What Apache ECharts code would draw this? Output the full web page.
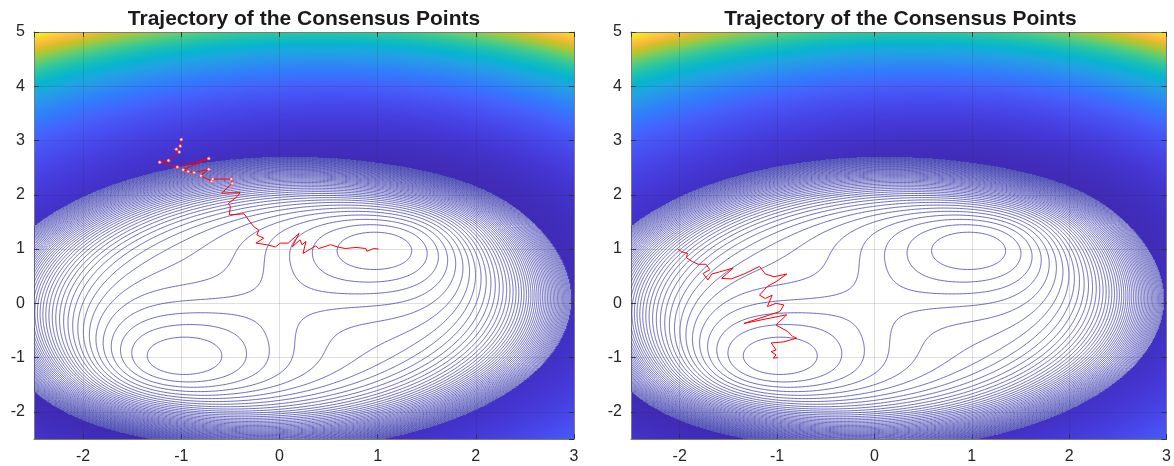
<!DOCTYPE html>
<html><head><meta charset="utf-8"><title>Trajectory of the Consensus Points</title>
<script src="https://cdn.jsdelivr.net/npm/echarts/dist/echarts.min.js"></script>
<style>html,body{margin:0;padding:0;background:#fff;}#chart{width:1174px;height:466px;}</style>
</head><body><div id="chart"></div>
<script>
// ---------- text and axes ----------
const TITLE = 'Trajectory of the Consensus Points';
const X_EXTENT = [-2.5, 3];
const Y_EXTENT = [-2.5, 5];
const TICK_STEP = 1;

// ---------- consensus-point trajectories ----------
const LEFT_PATH = [[-1.00,3.02],[-1.01,2.90],[-1.05,2.84],[-1.02,2.79],[-1.13,2.63],[-1.22,2.60],[-1.04,2.51],[-0.72,2.67],[-0.98,2.46],[-0.93,2.43],[-0.87,2.41],[-0.72,2.47],[-0.80,2.35],[-0.69,2.25],[-0.68,2.29],[-0.49,2.29],[-0.48,2.21],[-0.59,2.03],[-0.40,2.04],[-0.43,1.97],[-0.52,1.84],[-0.50,1.79],[-0.51,1.63],[-0.36,1.65],[-0.30,1.50],[-0.26,1.41],[-0.21,1.35],[-0.23,1.26],[-0.16,1.20],[-0.24,1.11],[-0.13,1.08],[-0.04,1.04],[0.01,1.11],[0.09,1.11],[0.20,1.29],[0.13,1.04],[0.21,1.17],[0.23,1.08],[0.27,1.14],[0.24,0.92],[0.37,1.06],[0.40,1.01],[0.52,1.08],[0.59,1.04],[0.67,1.01],[0.78,1.03],[0.88,1.01],[0.89,0.96],[0.96,1.01],[1.01,1.00]];
const RIGHT_PATH = [[-2.02,1.00],[-1.98,0.95],[-1.92,0.92],[-1.93,0.84],[-1.87,0.77],[-1.81,0.72],[-1.73,0.72],[-1.69,0.62],[-1.76,0.55],[-1.71,0.43],[-1.67,0.54],[-1.59,0.58],[-1.45,0.65],[-1.57,0.46],[-1.47,0.45],[-1.34,0.54],[-1.18,0.68],[-1.12,0.54],[-1.03,0.49],[-0.90,0.54],[-1.01,0.40],[-1.10,0.31],[-1.18,0.15],[-1.12,0.09],[-1.05,0.15],[-1.10,-0.06],[-1.01,0.00],[-0.93,-0.03],[-0.97,-0.15],[-1.34,-0.37],[-0.90,-0.21],[-1.01,-0.40],[-0.89,-0.52],[-0.84,-0.61],[-0.80,-0.64],[-0.93,-0.71],[-1.06,-0.73],[-1.01,-0.86],[-1.06,-0.89],[-1.01,-0.95],[-1.04,-1.01],[-0.99,-1.00]];
const LEFT_MARKED_POINTS = 17;

// ---------- objective landscape: minima at (1,1) and (-1,-1), saddle at (0,0) ----------
const RING_WEIGHT_X = 0.9;       // minima lie on 0.9 x^2 + 1.1 y^2 = 2
const RING_WEIGHT_Y = 1.1;
const DIAGONAL_COUPLING = 4;     // pulls the minima onto y = x
const COUPLING_SATURATION = 0.3; // used for the contour field
const CONTOUR_FIRST = 1.0;       // contour levels are evenly spaced in  v + c*v^2
const CONTOUR_STEP = 1.22;
const CONTOUR_COMPRESSION = 0.009;
const CONTOUR_LAST = 45;         // highest drawn level = edge of the white region
const COLOR_GAMMA = 1.25;

function landscape(x, y, saturation) {
  const r = RING_WEIGHT_X * x * x + RING_WEIGHT_Y * y * y - (RING_WEIGHT_X + RING_WEIGHT_Y);
  const d = (x - y) * (x - y);
  return r * r + DIAGONAL_COUPLING * d / (1 + saturation * d);
}

// parula colormap
const PARULA = [[0.2422,0.1504,0.6603],[0.2706,0.2147,0.8364],[0.2813,0.3006,0.9414],[0.2699,0.3892,0.9906],[0.1963,0.4847,0.9892],[0.1687,0.5703,0.9359],[0.1248,0.6459,0.8883],[0.0297,0.7082,0.8163],[0.0964,0.7500,0.7120],[0.2161,0.7843,0.5923],[0.3909,0.8029,0.4354],[0.6174,0.7876,0.2612],[0.8203,0.7498,0.1535],[0.9728,0.7298,0.2394],[0.9892,0.8136,0.1885],[0.9597,0.9135,0.1423],[0.9769,0.9839,0.0805]];
const PARULA_POS = [0,4,8,12,16,20,24,28,32,36,40,44,48,52,56,60,63].map(v => v / 63);
function parula(t) {
  t = Math.max(0, Math.min(1, t));
  let k = 0;
  while (k < PARULA_POS.length - 2 && t > PARULA_POS[k + 1]) k++;
  const u = (t - PARULA_POS[k]) / (PARULA_POS[k + 1] - PARULA_POS[k]);
  const a = PARULA[k], b = PARULA[k + 1];
  return [0, 1, 2].map(c => Math.round(255 * (a[c] + (b[c] - a[c]) * u)));
}

// contour levels
const LEVELS = [];
for (let q = CONTOUR_FIRST; ; q += CONTOUR_STEP) {
  const v = (-1 + Math.sqrt(1 + 4 * CONTOUR_COMPRESSION * q)) / (2 * CONTOUR_COMPRESSION);
  if (v > CONTOUR_LAST) break;
  LEVELS.push(v);
}

// ---------- surface raster (cells of the landscape) ----------
const CELL_NX = 550, CELL_NY = 750;
const BG_CANVAS = document.createElement('canvas');
(function buildSurface() {
  BG_CANVAS.width = CELL_NX; BG_CANVAS.height = CELL_NY;
  const ctx = BG_CANVAS.getContext('2d');
  const img = ctx.createImageData(CELL_NX, CELL_NY);
  const dx = (X_EXTENT[1] - X_EXTENT[0]) / CELL_NX, dy = (Y_EXTENT[1] - Y_EXTENT[0]) / CELL_NY;
  const inside = new Uint8Array(CELL_NX * CELL_NY);
  const surf = new Float64Array(CELL_NX * CELL_NY);
  let vmax = 0;
  for (let j = 0; j < CELL_NY; j++) for (let i = 0; i < CELL_NX; i++) {
    const x = X_EXTENT[0] + (i + 0.5) * dx, y = Y_EXTENT[1] - (j + 0.5) * dy;
    const p = j * CELL_NX + i;
    inside[p] = landscape(x, y, COUPLING_SATURATION) < CONTOUR_LAST ? 1 : 0;
    surf[p] = landscape(x, y, 0);
    if (surf[p] > vmax) vmax = surf[p];
  }
  for (let p = 0; p < surf.length; p++) {
    const c = inside[p] ? [255, 255, 255] : parula(Math.pow(surf[p] / vmax, COLOR_GAMMA));
    img.data[4 * p] = c[0]; img.data[4 * p + 1] = c[1]; img.data[4 * p + 2] = c[2]; img.data[4 * p + 3] = 255;
  }
  ctx.putImageData(img, 0, 0);
})();

// ---------- contour lines by marching squares (data coordinates) ----------
const CONTOURS = (function () {
  const h = 0.014, x0 = X_EXTENT[0], y0 = Y_EXTENT[0], yTop = 3.4;
  const nx = Math.round((X_EXTENT[1] - x0) / h) + 1, ny = Math.round((yTop - y0) / h) + 1;
  const V = new Float64Array(nx * ny);
  for (let j = 0; j < ny; j++) for (let i = 0; i < nx; i++) V[j * nx + i] = landscape(x0 + i * h, y0 + j * h, COUPLING_SATURATION);
  const CASES = {1:[[3,0]],2:[[0,1]],3:[[3,1]],4:[[1,2]],6:[[0,2]],7:[[3,2]],8:[[3,2]],9:[[0,2]],11:[[1,2]],12:[[3,1]],13:[[0,1]],14:[[3,0]]};
  return LEVELS.map(L => {
    const segs = [];
    for (let j = 0; j < ny - 1; j++) for (let i = 0; i < nx - 1; i++) {
      const a = V[j * nx + i], b = V[j * nx + i + 1], c = V[(j + 1) * nx + i + 1], d = V[(j + 1) * nx + i];
      const code = (a > L ? 1 : 0) | (b > L ? 2 : 0) | (c > L ? 4 : 0) | (d > L ? 8 : 0);
      if (code === 0 || code === 15) continue;
      const xl = x0 + i * h, yb = y0 + j * h;
      const ep = e => e === 0 ? [xl + h * (L - a) / (b - a), yb]
                   : e === 1 ? [xl + h, yb + h * (L - b) / (c - b)]
                   : e === 2 ? [xl + h * (L - d) / (c - d), yb + h]
                   : [xl, yb + h * (L - a) / (d - a)];
      let pairs;
      if (code === 5 || code === 10) {
        const up = (a + b + c + d) / 4 > L;
        pairs = (code === 5) === up ? [[0,1],[3,2]] : [[3,0],[1,2]];
      } else pairs = CASES[code];
      for (const pr of pairs) { const p = ep(pr[0]), q = ep(pr[1]); segs.push(p[0], p[1], q[0], q[1]); }
    }
    return segs;
  });
})();

// ---------- chart ----------
const FONT = '"Liberation Sans", Arial, Helvetica, sans-serif';
const GRIDS = [{left: 34, top: 32, width: 540, height: 407}, {left: 631, top: 32, width: 539, height: 407}];

function axisPair(kind, g) {
  const ext = kind === 'x' ? X_EXTENT : Y_EXTENT;
  const base = {type: 'value', gridIndex: g, min: ext[0], max: ext[1], minInterval: TICK_STEP, maxInterval: TICK_STEP, z: 2,
    axisLine: {show: true, onZero: false, lineStyle: {color: '#7a7a7a', width: 1}},
    axisTick: {show: true, inside: true, length: 5, lineStyle: {color: '#333'}}};
  const main = Object.assign({}, base, {position: kind === 'x' ? 'bottom' : 'left',
      axisLabel: {show: true, showMinLabel: false, margin: kind === 'x' ? 10 : 9, fontSize: 16, color: '#262626', fontFamily: FONT},
      splitLine: {show: true, lineStyle: {color: 'rgba(38,38,38,0.15)', width: 1}}});
  const mirror = Object.assign({}, base, {position: kind === 'x' ? 'top' : 'right', axisLabel: {show: false}, splitLine: {show: false}});
  return [main, mirror];
}

function panelSeries(g, path, marked) {
  const xi = 2 * g, yi = 2 * g;
  return [
    {type: 'custom', xAxisIndex: xi, yAxisIndex: yi, z: 1, silent: true, clip: true,
     data: [[X_EXTENT[0], Y_EXTENT[0]]], encode: {x: 0, y: 1},
     renderItem: (params, api) => {
       const p0 = api.coord([X_EXTENT[0], Y_EXTENT[1]]), p1 = api.coord([X_EXTENT[1], Y_EXTENT[0]]);
       return {type: 'image', silent: true, style: {image: BG_CANVAS, x: p0[0], y: p0[1], width: p1[0] - p0[0], height: p1[1] - p0[1]}};
     }},
    {type: 'custom', xAxisIndex: xi, yAxisIndex: yi, z: 3, silent: true, clip: true,
     data: LEVELS.map(L => [0, 0, L]), encode: {x: 0, y: 1},
     renderItem: (params, api) => {
       const segs = CONTOURS[params.dataIndex];
       if (!segs.length) return {type: 'group', children: []};
       const parts = [];
       for (let k = 0; k < segs.length; k += 4) {
         const p = api.coord([segs[k], segs[k + 1]]), q = api.coord([segs[k + 2], segs[k + 3]]);
         parts.push('M' + p[0].toFixed(2) + ' ' + p[1].toFixed(2) + 'L' + q[0].toFixed(2) + ' ' + q[1].toFixed(2));
       }
       return {type: 'path', silent: true, shape: {pathData: parts.join('')},
               style: {fill: null, stroke: 'rgb(56,56,172)', lineWidth: 0.85, opacity: 0.9}};
     }},
    {type: 'line', xAxisIndex: xi, yAxisIndex: yi, z: 5, data: path, smooth: false, showAllSymbol: true,
     symbol: 'circle', symbolSize: (v, p) => p.dataIndex < marked ? 3 : 0,
     itemStyle: {color: '#fde6e6', borderColor: '#ff3030', borderWidth: 0.6},
     lineStyle: {color: '#ff0000', width: 1}, silent: true}
  ];
}

const chart = echarts.init(document.getElementById('chart'), null, {renderer: 'canvas'});
chart.setOption({
  animation: false,
  backgroundColor: '#ffffff',
  grid: GRIDS,
  xAxis: axisPair('x', 0).concat(axisPair('x', 1)),
  yAxis: axisPair('y', 0).concat(axisPair('y', 1)),
  graphic: GRIDS.map(gr => ({type: 'text', x: gr.left + gr.width / 2, y: 19, z: 10,
    style: {text: TITLE, font: 'bold 21px ' + FONT, fill: '#1a1a1a', align: 'center', verticalAlign: 'middle', textAlign: 'center', textVerticalAlign: 'middle'}})),
  series: panelSeries(0, LEFT_PATH, LEFT_MARKED_POINTS).concat(panelSeries(1, RIGHT_PATH, 0))
});
</script></body></html>
